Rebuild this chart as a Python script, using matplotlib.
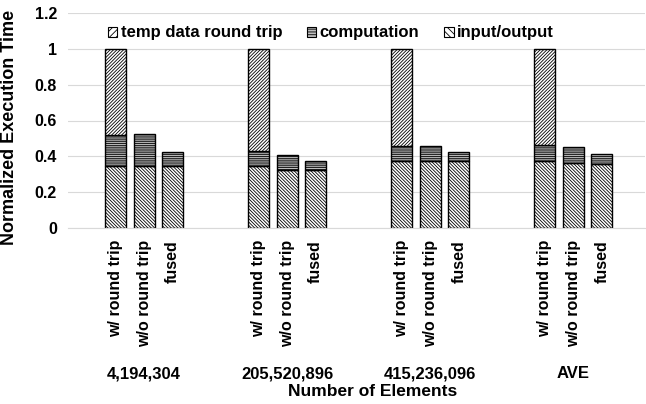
import matplotlib
matplotlib.use("Agg")
import matplotlib.pyplot as plt
import matplotlib.transforms as mtransforms
from matplotlib.patches import Patch
import numpy as np

# Data: three configurations for each problem size, stacked by component
groups = ["4,194,304", "205,520,896", "415,236,096", "AVE"]
configs = ["w/ round trip", "w/o round trip", "fused"]

input_output = [0.348, 0.348, 0.348,
                0.343, 0.324, 0.324,
                0.376, 0.376, 0.372,
                0.372, 0.363, 0.358]
computation = [0.171, 0.174, 0.074,
               0.085, 0.085, 0.048,
               0.083, 0.081, 0.052,
               0.093, 0.091, 0.055]
temp_round_trip = [0.481, 0.0, 0.0,
                   0.572, 0.0, 0.0,
                   0.541, 0.0, 0.0,
                   0.535, 0.0, 0.0]

series_names = ["temp data round trip", "computation", "input/output"]
yticks = [0, 0.2, 0.4, 0.6, 0.8, 1.0, 1.2]
ytick_labels = ["0", "0.2", "0.4", "0.6", "0.8", "1", "1.2"]

HATCH_TEMP = "/" * 10
HATCH_COMP = "-" * 9
HATCH_IO = "\\" * 10

plt.rcParams["hatch.linewidth"] = 0.6
plt.rcParams["font.family"] = ["Liberation Sans", "DejaVu Sans"]

fig = plt.figure(figsize=(6.46, 4.04), dpi=100)
W, H = 646, 404
ax = fig.add_axes([68 / W, 1 - 227.7 / H, (645 - 68) / W, (227.7 - 13.3) / H])

# Each group occupies five slots: three bars and two empty slots
slot = 5
n_cfg = len(configs)
x = np.array([g * slot + j for g in range(len(groups)) for j in range(n_cfg)], dtype=float)
io = np.array(input_output)
comp = np.array(computation)
temp = np.array(temp_round_trip)
width = 0.73

bar_kw = dict(width=width, edgecolor="black", linewidth=1.0)
ax.bar(x, io, hatch=HATCH_IO, color="white", **bar_kw)
ax.bar(x, comp, bottom=io, hatch=HATCH_COMP, color="#bfbfbf", **bar_kw)
mask = temp > 0
ax.bar(x[mask], temp[mask], bottom=(io + comp)[mask], hatch=HATCH_TEMP,
       color="white", **bar_kw)

ax.set_xlim(-1.66, 18.51)
ax.set_ylim(0, 1.2)
ax.set_yticks(yticks)
ax.set_yticklabels(ytick_labels, fontsize=11.5, fontweight="bold")
ax.tick_params(axis="y", length=0, pad=8)
ax.set_xticks([])
ax.grid(axis="y", color="#d9d9d9", linewidth=0.8)
ax.set_axisbelow(True)
for side in ["top", "right", "left"]:
    ax.spines[side].set_visible(False)
ax.spines["bottom"].set_color("#d9d9d9")
ax.spines["bottom"].set_linewidth(0.8)

# Rotated configuration labels under each bar
lab_tf = mtransforms.blended_transform_factory(ax.transData, fig.transFigure)
for i, xi in enumerate(x):
    ax.text(xi, 1 - 240 / H, configs[i % n_cfg], rotation=90, ha="center", va="top",
            fontsize=11.5, fontweight="bold", transform=lab_tf)

# Group labels centred under the middle bar
for g, name in enumerate(groups):
    ax.text(g * slot + 1, 1 - 374 / H, name, ha="center", va="center",
            fontsize=12, fontweight="bold", transform=lab_tf)

fig.text(373 / W, 1 - 392 / H, "Number of Elements", ha="center", va="center",
         fontsize=12.5, fontweight="bold")
fig.text(10 / W, 1 - 127 / H, "Normalized Execution Time", rotation=90,
         ha="center", va="center", fontsize=13, fontweight="bold")

handles = [Patch(facecolor="white", edgecolor="black", hatch="/////", linewidth=0.8),
           Patch(facecolor="#bfbfbf", edgecolor="black", hatch="------", linewidth=0.8),
           Patch(facecolor="white", edgecolor="black", hatch="\\\\\\\\\\", linewidth=0.8)]
fig.legend(handles, series_names, loc="center", bbox_to_anchor=(331 / W, 1 - 33 / H),
           ncol=3, frameon=False, handlelength=0.55, handleheight=0.55,
           handletextpad=0.2, columnspacing=1.5,
           prop=dict(size=12, weight="bold"))

fig.savefig("out.png", dpi=100)
